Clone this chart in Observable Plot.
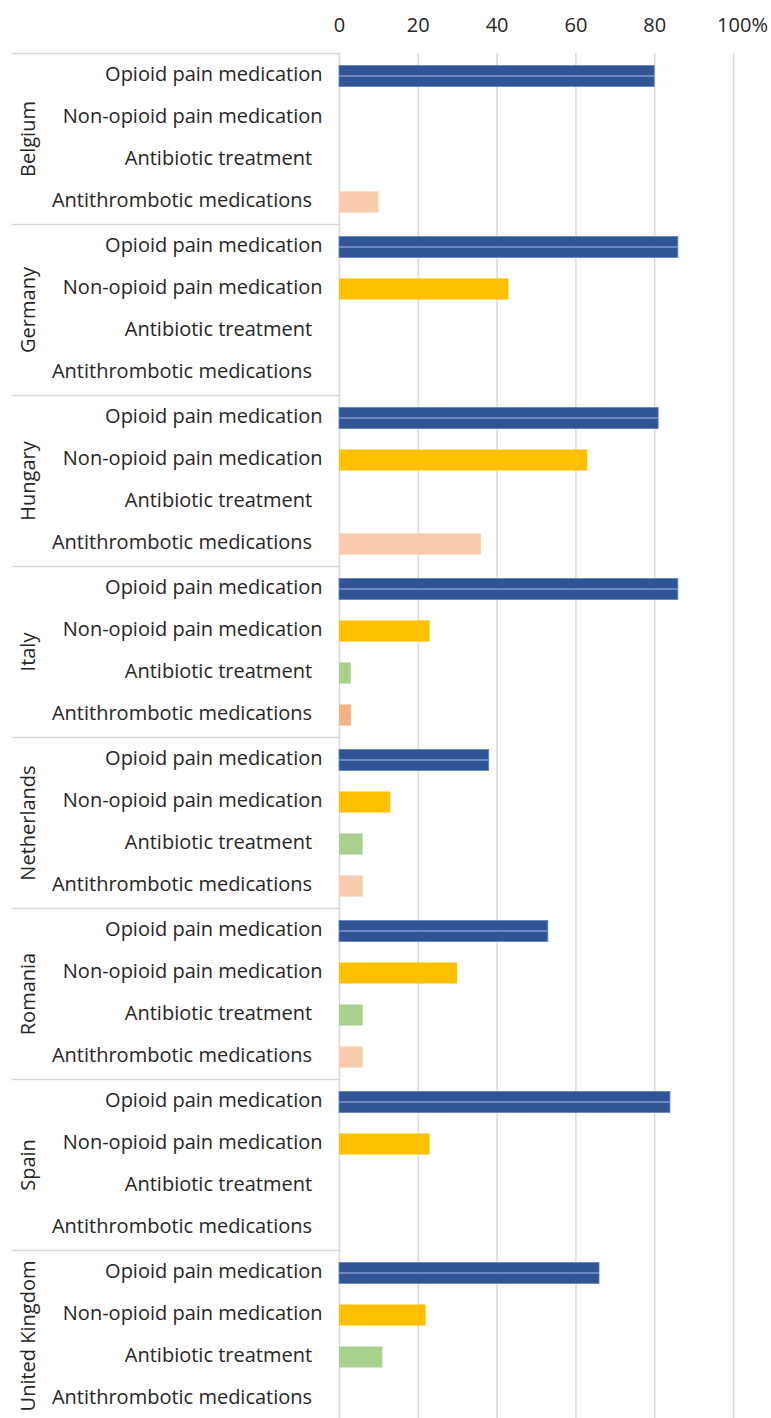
<!DOCTYPE html>
<html>
<head>
<meta charset="utf-8">
<script src="https://cdn.jsdelivr.net/npm/d3@7"></script>
<script src="https://cdn.jsdelivr.net/npm/@observablehq/plot@0.6"></script>
<style>
  html, body { margin: 0; padding: 0; background: #fff; overflow: hidden; }
</style>
</head>
<body>
<div id="chart"></div>
<script>
// Share of patients (%) receiving each type of medication, by country
const countries = ["Belgium", "Germany", "Hungary", "Italy", "Netherlands", "Romania", "Spain", "United Kingdom"];
const medications = ["Opioid pain medication", "Non-opioid pain medication", "Antibiotic treatment", "Antithrombotic medications"];
const opioid         = [80, 86, 81, 86, 38, 53, 84, 66];
const nonOpioid      = [0, 43, 63, 23, 13, 30, 23, 22];
const antibiotic     = [0, 0, 0, 3, 6, 6, 0, 11];
const antithrombotic = [10, 0, 36, 3, 6, 6, 0, 0];
const xTicks = [0, 20, 40, 60, 80, 100];

const series = [opioid, nonOpioid, antibiotic, antithrombotic];
const rows = countries.flatMap((country, i) =>
  medications.map((medication, j) => ({country, medication, value: series[j][i]}))
);

const fills = {
  "Opioid pain medication": "#2F5597",
  "Non-opioid pain medication": "#FFC000",
  "Antibiotic treatment": "#A9D18E",
  "Antithrombotic medications": "#F8CBAD"
};
const fillOf = d =>
  d.country === "Italy" && d.medication === "Antithrombotic medications" ? "#F4B183" : fills[d.medication];

const opioidRows = rows.filter(d => d.medication === medications[0] && d.value > 0);
const otherRows = rows.filter(d => d.medication !== medications[0] && d.value > 0);

const W = 771, H = 1424, mTop = 50, mLeft = 339, mRight = 38;
const band = (H - mTop) / countries.length / medications.length;
const barH = 22;
const inset = (band - barH) / 2;
const grid = "#D9D9D9";
const edge = "#6483BE";

const chart = Plot.plot({
  width: W,
  height: H,
  marginTop: mTop,
  marginBottom: 0,
  marginLeft: mLeft,
  marginRight: mRight,
  style: {fontFamily: "'Open Sans', sans-serif", fontSize: "20px", color: "#262626", background: "#fff"},
  x: {domain: [0, 100], axis: null, label: null},
  y: {domain: medications, padding: 0, axis: null, label: null},
  fy: {domain: countries, padding: 0, axis: null, label: null},
  color: {type: "identity"},
  marks: [
    Plot.gridX({ticks: xTicks, stroke: grid, strokeOpacity: 1, strokeWidth: 1.5}),
    // group separators across the label area
    Plot.frame({anchor: "top", stroke: grid, strokeOpacity: 1, strokeWidth: 1.5, insetLeft: -(mLeft - 12), insetRight: W - mLeft - mRight}),
    Plot.axisX({anchor: "top", ticks: xTicks.slice(0, -1), tickSize: 0, tickPadding: 22, label: null, tickFormat: d => String(d)}),
    Plot.axisX({anchor: "top", ticks: xTicks.slice(-1), tickSize: 0, tickPadding: 22, label: null, tickFormat: d => d + "%", dx: 9}),
    Plot.axisY({tickSize: 0, tickPadding: 17, label: null, dy: -2, tickFormat: d => d.startsWith("Anti") ? d + "\u00a0\u00a0" : d}),
    Plot.text(countries, {fy: d => d, text: d => d, frameAnchor: "left", rotate: -90, textAnchor: "middle", dx: -(mLeft - 28)}),
    Plot.barX(otherRows, {fy: "country", y: "medication", x: "value", fill: fillOf, insetTop: inset, insetBottom: inset}),
    // opioid bars are drawn as two stacked halves with a light outline
    Plot.barX(opioidRows, {fy: "country", y: "medication", x: "value", fill: fillOf, stroke: edge, strokeWidth: 0.8,
      insetTop: inset, insetBottom: inset + barH / 2}),
    Plot.barX(opioidRows, {fy: "country", y: "medication", x: "value", fill: fillOf, stroke: edge, strokeWidth: 0.8,
      insetTop: inset + barH / 2, insetBottom: inset})
  ]
});

document.getElementById("chart").append(chart);
</script>
</body>
</html>
